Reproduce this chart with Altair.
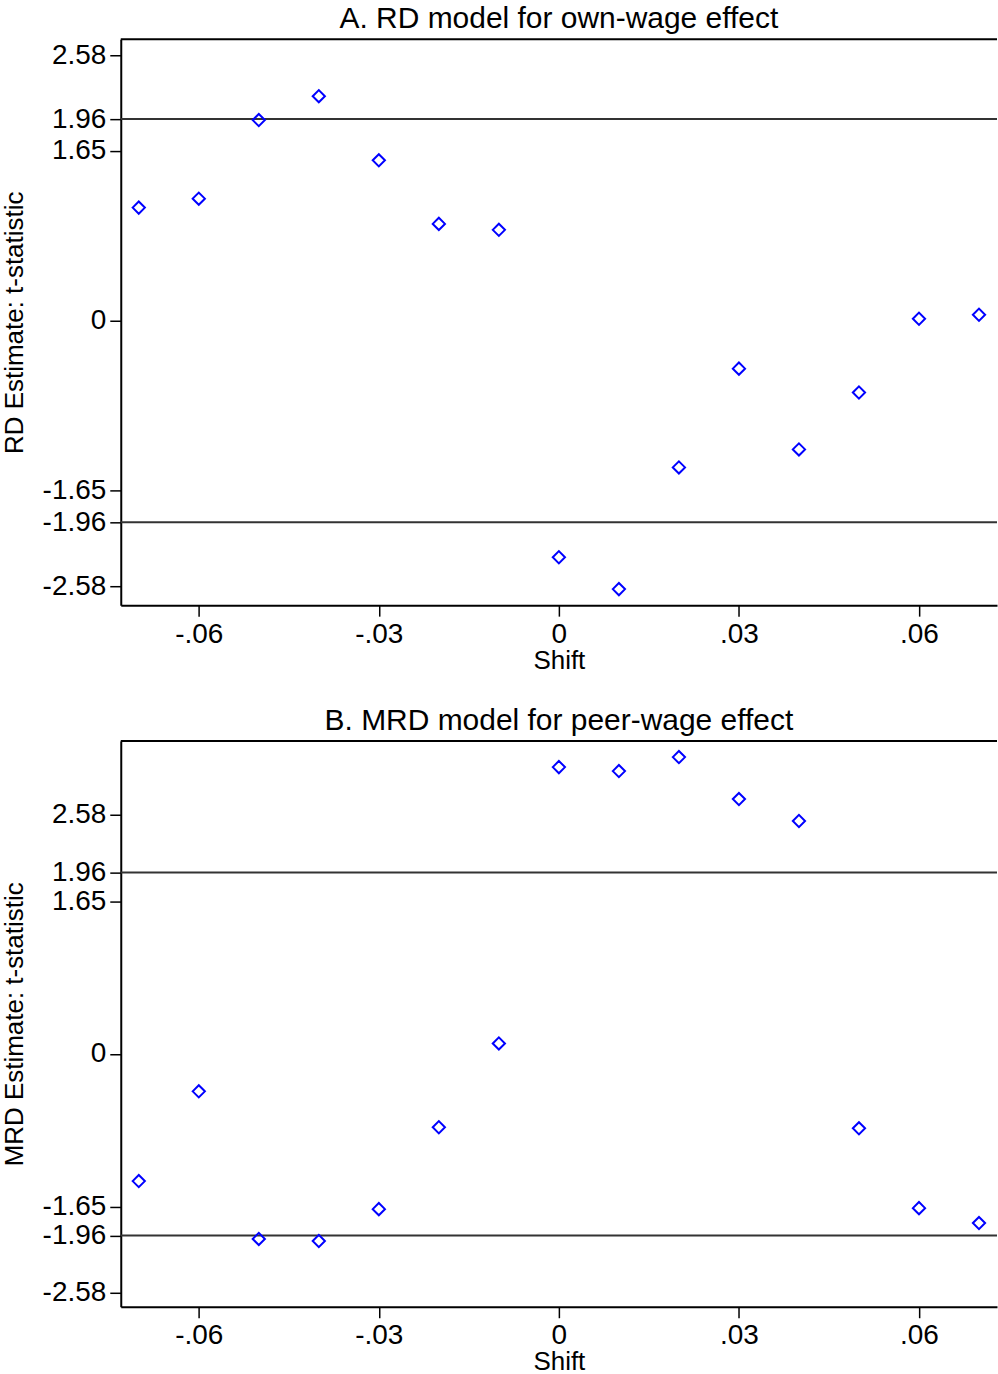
import altair as alt
import pandas as pd

# ---- data ----
shift = [-0.07, -0.06, -0.05, -0.04, -0.03, -0.02, -0.01, 0.0,
         0.01, 0.02, 0.03, 0.04, 0.05, 0.06, 0.07]
rd_t = [1.099, 1.186, 1.950, 2.182, 1.559, 0.941, 0.883, -2.299,
        -2.609, -1.426, -0.466, -1.251, -0.698, 0.019, 0.058]
mrd_t = [-1.373, -0.404, -1.998, -2.020, -1.676, -0.792, 0.113, 3.097,
         3.054, 3.205, 2.752, 2.515, -0.803, -1.665, -1.826]
y_ticks = [-2.58, -1.96, -1.65, 0, 1.65, 1.96, 2.58]
x_ticks = [-0.06, -0.03, 0, 0.03, 0.06]
crit = [-1.96, 1.96]

titles = ["A. RD model for own-wage effect", "B. MRD model for peer-wage effect"]
y_titles = ["RD Estimate: t-statistic", "MRD Estimate: t-statistic"]
y_domains = [[-2.765, 2.735], [-2.73, 3.38]]
x_domain = [-0.073, 0.073]

FONT = "Liberation Sans"
W, H = 878, 567

x_label_expr = ("datum.value == 0 ? '0' : (datum.value < 0 ? '-' : '') + "
                "replace(format(abs(datum.value), '.2f'), '0.', '.')")
y_label_expr = ("datum.value == 0 ? '0' : (datum.value < 0 ? '-' : '') + "
                "format(abs(datum.value), '.2f')")


def panel(values, title, ytitle, ydomain):
    df = pd.DataFrame({"shift": shift, "t": values})
    ref = pd.DataFrame({"t": crit})
    x = alt.X("shift:Q",
              scale=alt.Scale(domain=x_domain, nice=False, zero=False),
              axis=alt.Axis(values=x_ticks, title="Shift", labelExpr=x_label_expr,
                            grid=False, tickSize=11, labelPadding=4,
                            titlePadding=-1))
    y = alt.Y("t:Q",
              scale=alt.Scale(domain=ydomain, nice=False, zero=False),
              axis=alt.Axis(values=y_ticks, title=ytitle, labelExpr=y_label_expr,
                            grid=False, tickSize=11, labelPadding=4,
                            titlePadding=15))
    pts = alt.Chart(df).mark_point(
        shape="diamond", filled=False, color="#0000ff", size=150,
        strokeWidth=2, opacity=1
    ).encode(x=x, y=y)
    rules = alt.Chart(ref).mark_rule(color="#333333", strokeWidth=2).encode(
        y=alt.Y("t:Q", scale=alt.Scale(domain=ydomain, nice=False, zero=False)))
    frame = alt.Chart(pd.DataFrame({"k": [0]})).mark_rule(
        color="black", strokeWidth=2
    ).encode(x=alt.value(0), x2=alt.value(W), y=alt.value(0))
    return alt.layer(rules, pts, frame).properties(
        width=W, height=H,
        title=alt.TitleParams(title, fontSize=30, font=FONT, fontWeight="normal",
                              anchor="middle", frame="group",
                              offset=4, color="black"))


chart = alt.vconcat(
    panel(rd_t, titles[0], y_titles[0], y_domains[0]),
    panel(mrd_t, titles[1], y_titles[1], y_domains[1]),
    spacing=33,
).properties(
    padding={"left": 1, "top": 3, "right": 0, "bottom": 0},
    background="white",
).configure_view(
    strokeWidth=0
).configure_axis(
    labelFont=FONT, titleFont=FONT, labelFontSize=28, titleFontSize=26,
    titleFontWeight="normal", labelColor="black", titleColor="black",
    domainColor="black", domainWidth=2, tickColor="black", tickWidth=1.5,
)

chart.save("out.html", embed_options={"renderer": "svg", "actions": False})
